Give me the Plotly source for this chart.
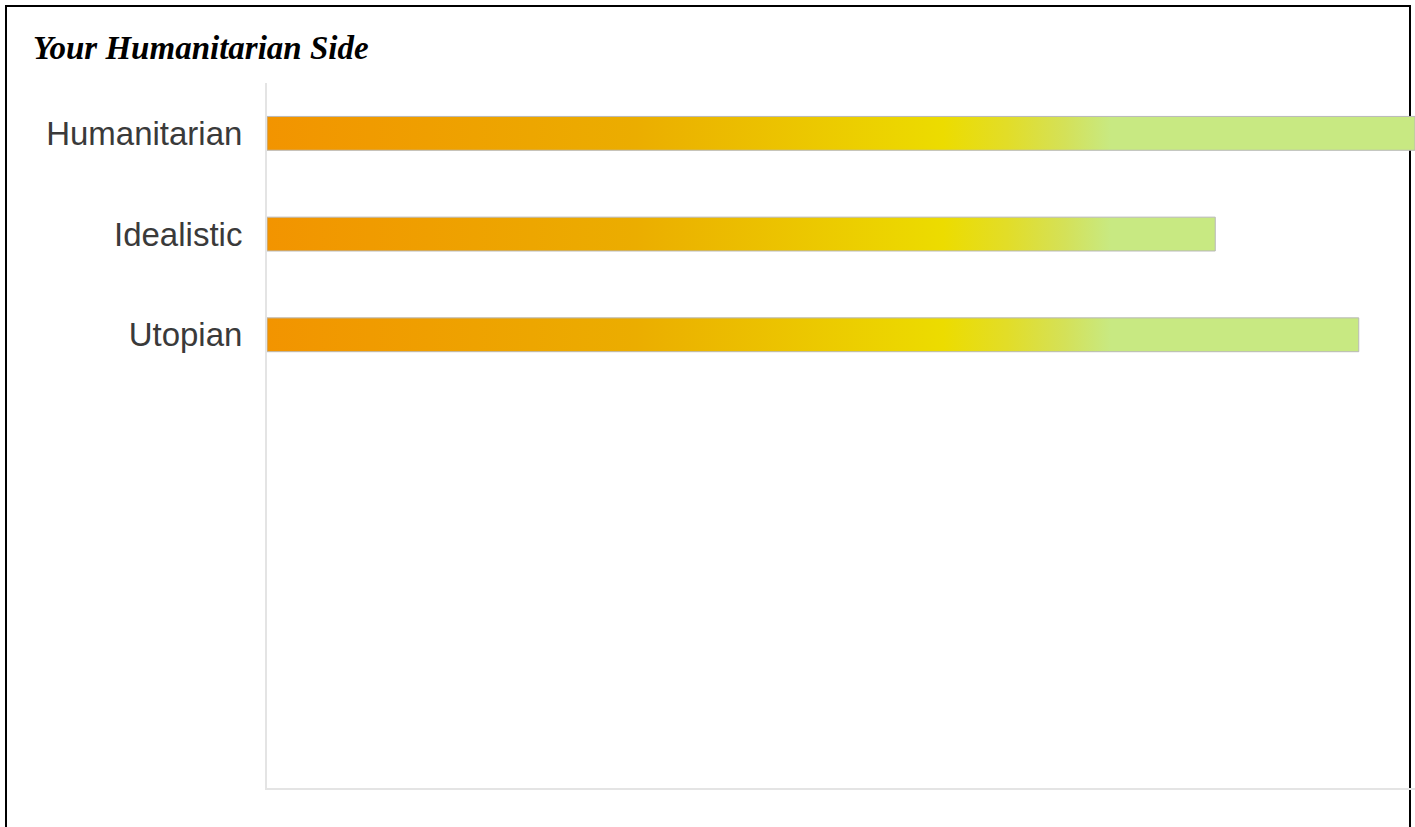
import plotly.graph_objects as go

categories = ["Humanitarian", "Idealistic", "Utopian"]
values = [100, 82.6, 95.1]
n_slots = 7
bar_half = 0.168

grad_scale = [
    [0.0, "#f29400"],
    [0.32, "#ebad00"],
    [0.589, "#ecdc00"],
    [0.645, "#e2dd28"],
    [0.695, "#d4e158"],
    [0.735, "#c8e982"],
    [1.0, "#c8e982"],
]

W, H = 1415, 827
L, R, T, B = 267, 0, 83, 39
pw = W - L - R
ph = H - T - B

fig = go.Figure()
for i, (cat, v) in enumerate(zip(categories, values)):
    xs = [0, v, v, 0, 0]
    ys = [i - bar_half, i - bar_half, i + bar_half, i + bar_half, i - bar_half]
    fig.add_trace(go.Scatter(
        x=xs, y=ys, mode="lines", fill="toself",
        fillgradient=dict(type="horizontal", colorscale=grad_scale, start=0, stop=100),
        line=dict(color="#b8b8b8", width=1),
        name=cat, showlegend=False, hoverinfo="skip",
    ))

# outer black frame (left, top, right; bottom runs off the page)
fig.add_shape(type="rect", xref="paper", yref="paper",
              x0=(6 - L) / pw, x1=(1410 - L) / pw,
              y0=-(H + 20 - (T + ph)) / ph, y1=(ph + (T - 6)) / ph,
              line=dict(color="black", width=2), layer="below")

fig.update_layout(
    width=W, height=H,
    margin=dict(l=L, r=R, t=T, b=B, pad=0),
    paper_bgcolor="white", plot_bgcolor="rgba(0,0,0,0)",
    title=dict(text="<b><i>Your Humanitarian Side</i></b>",
               font=dict(family="Liberation Serif, Times New Roman, serif", size=33, color="black"),
               xref="container", yref="container", x=33 / W, xanchor="left",
               y=1 - 47 / H, yanchor="middle"),
    xaxis=dict(range=[0, 100], showgrid=False, zeroline=False, showticklabels=False,
               showline=True, linecolor="#e4e4e4", linewidth=2, fixedrange=True),
    yaxis=dict(range=[n_slots - 0.5, -0.5], tickvals=list(range(len(categories))), ticktext=categories,
               showgrid=False, zeroline=False, showline=True, linecolor="#e4e4e4", linewidth=2,
               ticks="", ticklabelstandoff=16,
               tickfont=dict(family="Liberation Sans, Arial, sans-serif", size=33, color="#3a3a3a"),
               fixedrange=True),
)

fig.write_html("out.html", config={"displayModeBar": False},
               post_script="document.body.style.margin='0px';")
